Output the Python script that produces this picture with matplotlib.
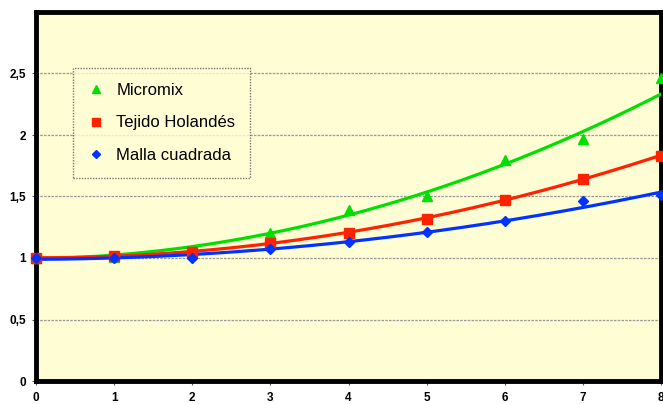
import numpy as np
import matplotlib
matplotlib.use("Agg")
import matplotlib.pyplot as plt

x = [0, 1, 2, 3, 4, 5, 6, 7, 8]
micromix = [1.0, 1.01, 1.04, 1.20, 1.39, 1.50, 1.80, 1.97, 2.46]
tejido = [1.0, 1.02, 1.05, 1.12, 1.20, 1.32, 1.47, 1.64, 1.83]
malla = [1.0, 1.0, 1.0, 1.07, 1.13, 1.21, 1.30, 1.46, 1.51]
# trend curves (smoothed with a quadratic fit)
trend_micromix = [1.0, 1.02, 1.08, 1.20, 1.37, 1.54, 1.75, 2.02, 2.34]
trend_tejido = [1.0, 1.02, 1.05, 1.12, 1.21, 1.32, 1.47, 1.65, 1.83]
trend_malla = [0.99, 1.0, 1.03, 1.07, 1.13, 1.21, 1.30, 1.42, 1.53]
labels = ["Micromix", "Tejido Holandés", "Malla cuadrada"]
xticks = [0, 1, 2, 3, 4, 5, 6, 7, 8]
yticks = [0, 0.5, 1, 1.5, 2, 2.5]
yticklabels = ["0", "0,5", "1", "1,5", "2", "2,5"]

colors = ["#00E000", "#FF2200", "#0033FF"]
markers = ["^", "s", "D"]
msizes = [7, 7, 5]

fig = plt.figure(figsize=(6.63, 4.04), dpi=100)
ax = fig.add_axes([36/663, 23/404, 625/663, 369/404])
ax.set_facecolor("#FFFDD4")
fig.patch.set_facecolor("white")

xs = np.linspace(0, 8, 200)
handles = []
for ys, tr, c, m, ms, lab in zip([micromix, tejido, malla],
                                 [trend_micromix, trend_tejido, trend_malla],
                                 colors, markers, msizes, labels):
    coef = np.polyfit(x, tr, 2)
    ax.plot(xs, np.polyval(coef, xs), color=c, lw=2.3, zorder=3)
    h = ax.plot(x, ys, linestyle="none", marker=m, color=c, ms=ms, zorder=4,
                clip_on=False, label=lab)[0]
    handles.append(h)

ax.set_xlim(0, 8)
ax.set_ylim(0, 3)
ax.set_xticks(xticks)
ax.set_yticks(yticks)
ax.set_yticklabels(yticklabels)
for t in ax.get_xticklabels() + ax.get_yticklabels():
    t.set_fontfamily("Liberation Sans")
    t.set_fontweight("bold")
    t.set_fontsize(8.5)
ax.tick_params(axis="x", length=3, width=0.8, color="#555555", pad=5)
ax.tick_params(axis="y", length=3, width=0.8, color="#555555", pad=4)
ax.grid(axis="y", color="#999999", linestyle=(0, (2, 1)), lw=0.9)
ax.set_axisbelow(True)
for s in ax.spines.values():
    s.set_linewidth(3.5)
    s.set_color("black")

leg = ax.legend(handles=handles, loc="upper left", bbox_to_anchor=(37/625, (381-68)/369),
                frameon=True, fancybox=False, prop={"family": "Liberation Sans", "size": 12},
                labelspacing=1.05, handlelength=1.0, handletextpad=0.7, borderpad=0.9,
                borderaxespad=0, markerscale=0.8, facecolor="#FFFDD4", edgecolor="#555555")
leg.get_frame().set_linestyle((0, (1, 1)))
leg.get_frame().set_linewidth(1.0)

fig.savefig("out.png", dpi=100)
